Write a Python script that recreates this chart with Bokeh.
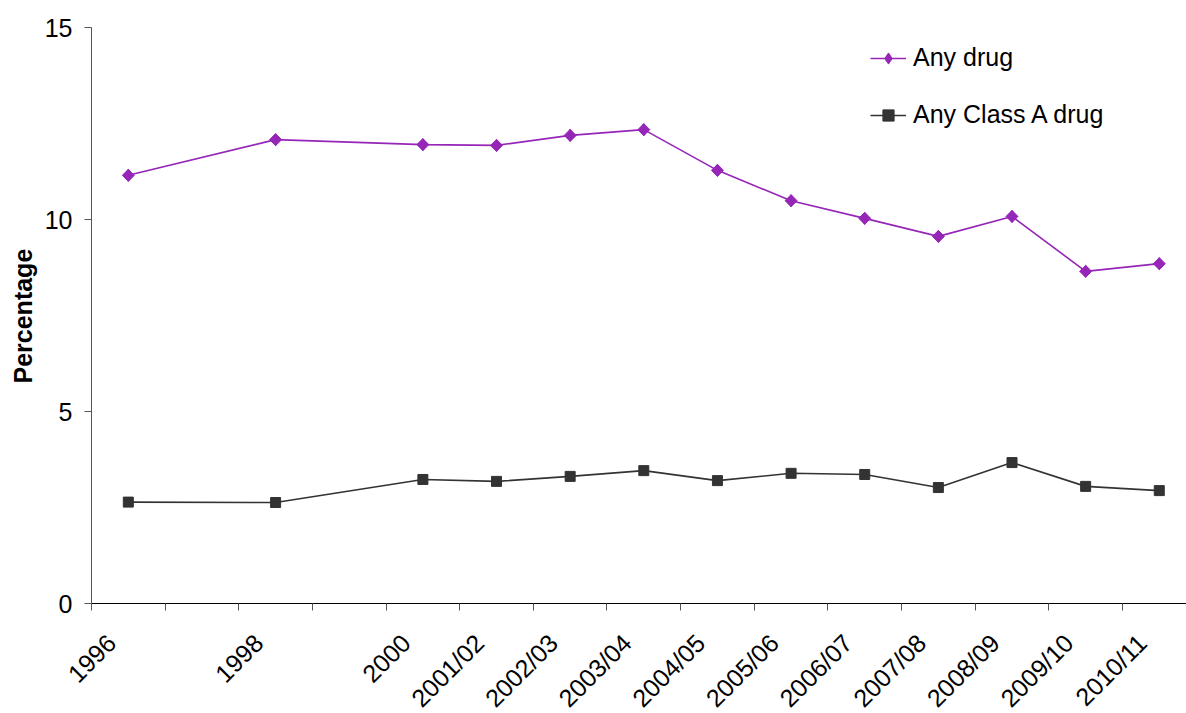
import math
from bokeh.plotting import figure
from bokeh.models import FixedTicker, Legend, LegendItem, Range1d, ColumnDataSource, Title
from bokeh.embed import file_html
from bokeh.resources import INLINE

slots = ["1996", "1997", "1998", "1999", "2000", "2001/02", "2002/03", "2003/04",
         "2004/05", "2005/06", "2006/07", "2007/08", "2008/09", "2009/10", "2010/11"]
slot_labels = ["1996", "", "1998", "", "2000", "2001/02", "2002/03", "2003/04",
               "2004/05", "2005/06", "2006/07", "2007/08", "2008/09", "2009/10", "2010/11"]
periods = ["1996", "1998", "2000", "2001/02", "2002/03", "2003/04", "2004/05",
           "2005/06", "2006/07", "2007/08", "2008/09", "2009/10", "2010/11"]
any_drug = [11.15, 12.08, 11.95, 11.93, 12.19, 12.34, 11.28, 10.49, 10.03, 9.56, 10.08, 8.65, 8.85]
class_a = [2.64, 2.63, 3.23, 3.18, 3.31, 3.46, 3.20, 3.39, 3.36, 3.02, 3.67, 3.05, 2.94]
y_ticks = [0, 5, 10, 15]

xs = [slots.index(p) for p in periods]
FONT = "Liberation Sans"

# layout: frame spans x 40..1186 px, y 10..713 px; slot width 73.64 px,
# value axis 38.4 px per unit with 0 at 603 px and 15 at 27 px,
# first slot edge at 91 px
SLOT_PX = 73.64
UNIT_PX = 38.4
FRAME_LEFT = 40
FRAME_TOP = 10
X_START = -0.5 - (91 - FRAME_LEFT) / SLOT_PX
X_END = X_START + (1186 - FRAME_LEFT) / SLOT_PX
Y_MIN = -110 / UNIT_PX
Y_MAX = 15 + (27 - FRAME_TOP) / UNIT_PX

p = figure(width=1186, height=713, output_backend="svg", toolbar_location=None,
           x_range=Range1d(X_START, X_END), y_range=Range1d(Y_MIN, Y_MAX),
           min_border_left=FRAME_LEFT, min_border_right=0, min_border_top=FRAME_TOP,
           min_border_bottom=0)
p.outline_line_color = None
p.xgrid.visible = False
p.ygrid.visible = False

purple = "#9526B8"
dark = "#333333"

src1 = ColumnDataSource(dict(x=xs, y=any_drug))
src2 = ColumnDataSource(dict(x=xs, y=class_a))

l1 = p.line("x", "y", source=src1, line_color=purple, line_width=1.6)
d1 = p.scatter("x", "y", source=src1, marker="diamond", size=12,
               fill_color=purple, line_color=purple)
m1 = p.scatter("x", "y", source=src1, marker="square", angle=math.pi / 4, size=8.5,
               fill_color=purple, line_color=purple)
l2 = p.line("x", "y", source=src2, line_color=dark, line_width=1.6)
m2 = p.scatter("x", "y", source=src2, marker="square", size=10, fill_color=dark, line_color=dark)

# x axis: labels slightly left of slot centres, ticks at slot boundaries
SHIFT = 0.23
label_pos = [round(i - SHIFT, 4) for i in range(len(slots))]
p.xaxis.fixed_location = 0
p.xaxis.bounds = (-0.5, X_END)
p.xaxis.ticker = FixedTicker(ticks=label_pos,
                             minor_ticks=[i - 0.5 for i in range(len(slots) + 1)])
p.xaxis.major_label_overrides = {pos: lab for pos, lab in zip(label_pos, slot_labels)}
p.xaxis.major_tick_out = 0
p.xaxis.major_tick_in = 0
p.xaxis.minor_tick_out = 7
p.xaxis.minor_tick_in = 0
p.xaxis.minor_tick_line_color = "#555555"
p.xaxis.major_label_orientation = math.pi / 4
p.xaxis.major_label_text_font = FONT
p.xaxis.major_label_text_font_size = "25px"
p.xaxis.major_label_text_color = "#000000"
p.xaxis.major_label_standoff = 28
p.xaxis.axis_line_color = "#000000"

# y axis
p.yaxis.fixed_location = -0.5
p.yaxis.ticker = FixedTicker(ticks=y_ticks)
p.yaxis.bounds = (0, 15)
p.yaxis.major_tick_out = 7
p.yaxis.major_tick_in = 0
p.yaxis.minor_tick_line_color = None
p.yaxis.major_label_text_font = FONT
p.yaxis.major_label_text_font_size = "25px"
p.yaxis.major_label_text_color = "#000000"
p.yaxis.major_label_standoff = 12
p.yaxis.axis_line_color = "#555555"
p.yaxis.major_tick_line_color = "#555555"

ytitle = Title(text="Percentage", align="left", offset=330, standoff=7,
               text_font=FONT, text_font_size="25px", text_font_style="bold",
               text_color="#000000")
p.add_layout(ytitle, "left")

legend = Legend(items=[LegendItem(label="Any drug", renderers=[l1, d1]),
                       LegendItem(label="Any Class A drug", renderers=[l2, m2])],
                location=(830, 584))
legend.padding = 0
legend.margin = 0
legend.border_line_alpha = 0
legend.background_fill_alpha = 0
legend.glyph_width = 36
legend.glyph_height = 28
legend.label_height = 28
legend.spacing = 28
legend.label_standoff = 7
legend.label_text_font = FONT
legend.label_text_font_size = "25px"
legend.label_text_color = "#000000"
p.add_layout(legend)

open("out.html", "w").write(file_html(p, INLINE))
